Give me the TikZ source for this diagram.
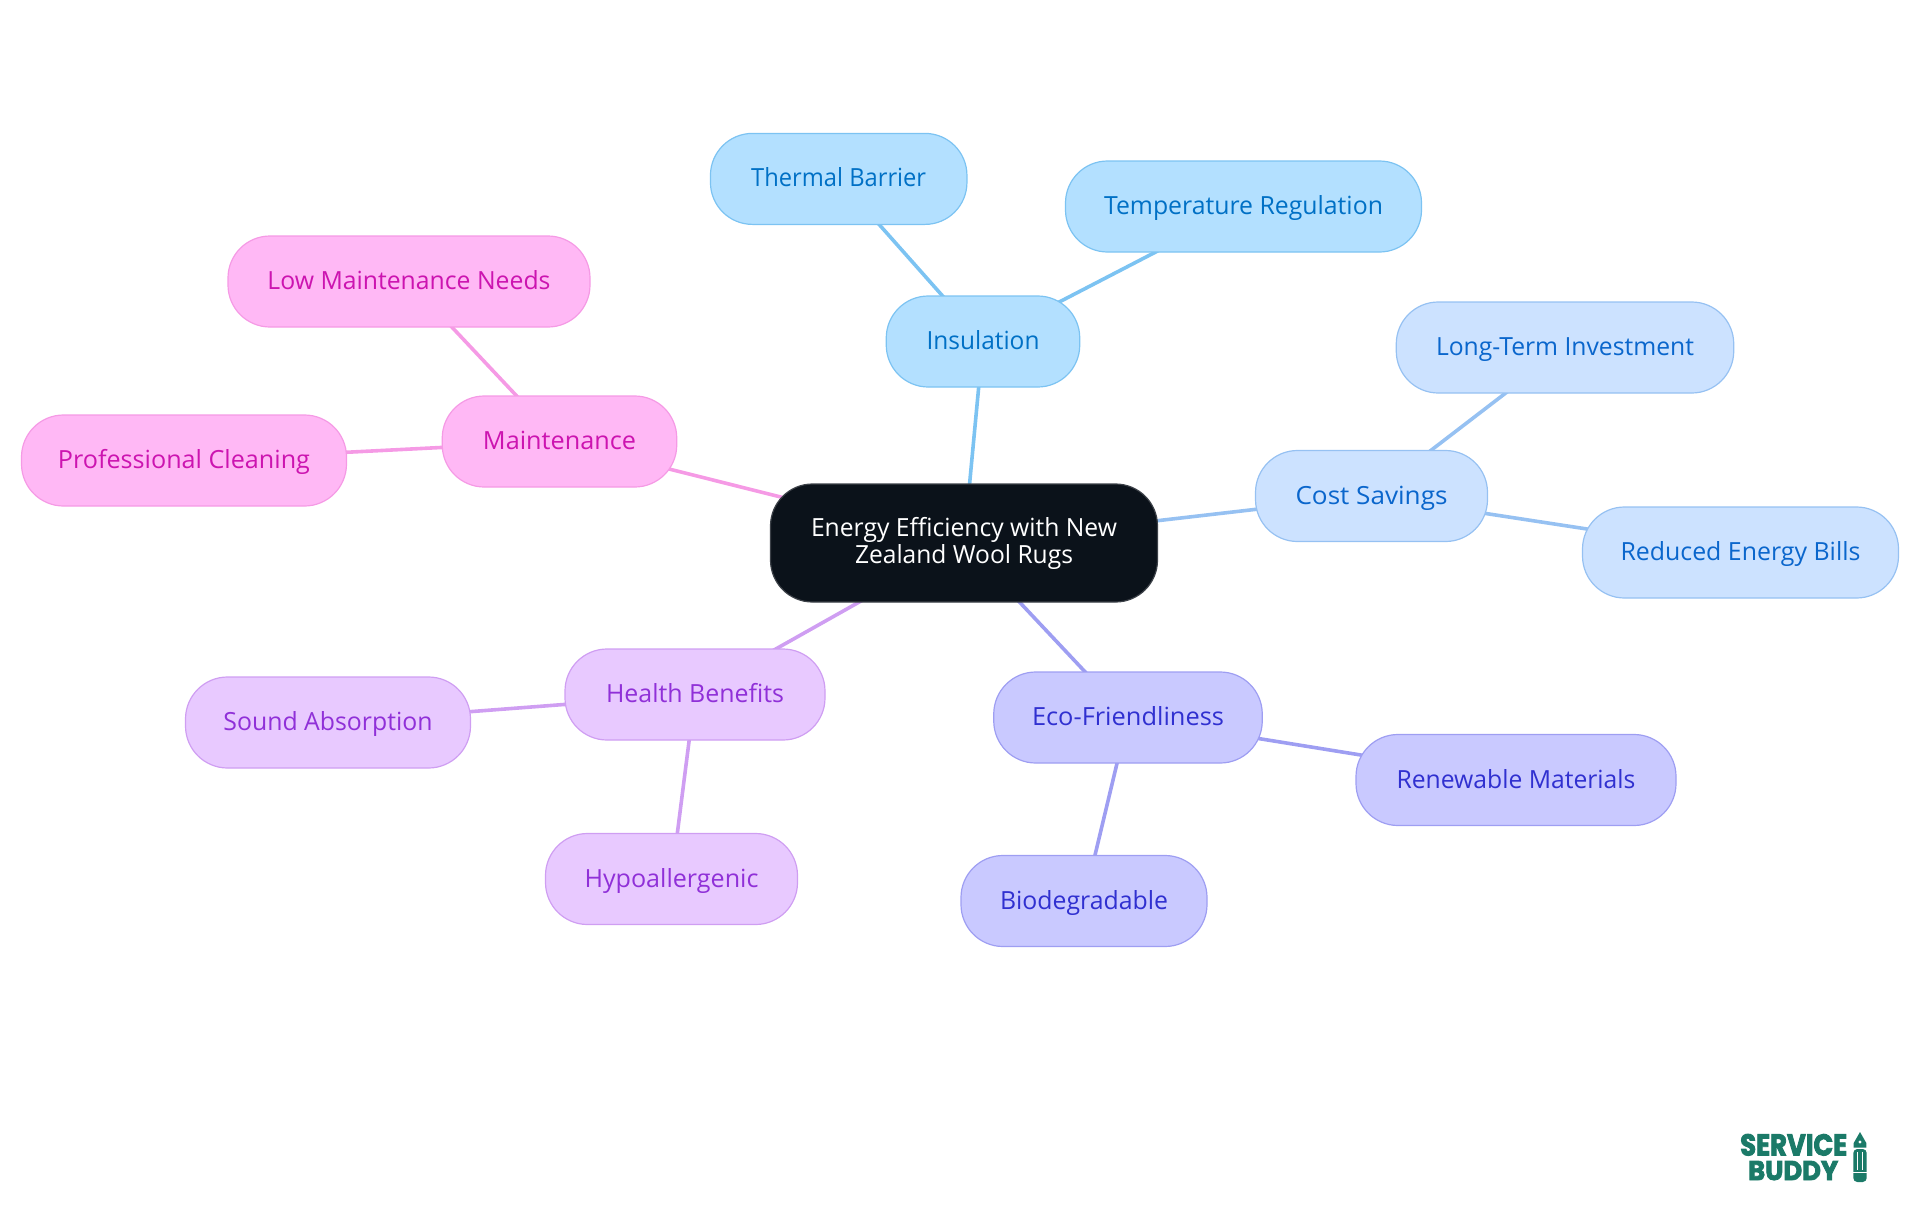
\documentclass[tikz,border=0pt]{standalone}
\usepackage{fontspec}
\usepackage{graphicx}
\setmainfont{Open Sans}
\newfontfamily\logofont[FakeBold=3]{Poppins Bold}
\usetikzlibrary{backgrounds}
\definecolor{insF}{HTML}{B3E0FF}\definecolor{insB}{HTML}{7CC3F2}\definecolor{insT}{HTML}{0070C5}
\definecolor{cosF}{HTML}{CCE2FF}\definecolor{cosB}{HTML}{96C1F2}\definecolor{cosT}{HTML}{0A66CC}
\definecolor{ecoF}{HTML}{C9C9FF}\definecolor{ecoB}{HTML}{9E9EF2}\definecolor{ecoT}{HTML}{3030D0}
\definecolor{heaF}{HTML}{E8C9FF}\definecolor{heaB}{HTML}{CF9EF2}\definecolor{heaT}{HTML}{9030D8}
\definecolor{maiF}{HTML}{FFB8F5}\definecolor{maiB}{HTML}{F59AE5}\definecolor{maiT}{HTML}{CC14B0}
\definecolor{rootF}{HTML}{0B121A}\definecolor{logoC}{HTML}{1B7A68}
\newcommand{\T}[2]{\raisebox{0pt}[21pt][5pt]{\resizebox{#1pt}{\height}{#2}}}
\tikzset{
  mm/.style={rectangle,rounded corners=42pt,inner sep=0pt,line width=1.2pt,minimum height=91pt,yshift=-0.5pt,font=\fontsize{25}{27}\selectfont},
  mmI/.style={mm,fill=insF,draw=insB,text=insT},
  mmC/.style={mm,fill=cosF,draw=cosB,text=cosT},
  mmE/.style={mm,fill=ecoF,draw=ecoB,text=ecoT},
  mmH/.style={mm,fill=heaF,draw=heaB,text=heaT},
  mmM/.style={mm,fill=maiF,draw=maiB,text=maiT},
  edge/.style={line width=3.6pt},
  logotext/.style={inner sep=0pt,text=logoC,font=\logofont\fontsize{26}{26}\selectfont}
}
\begin{document}
\begin{tikzpicture}[x=1pt,y=-1pt]
\useasboundingbox (0,0) rectangle (1920,1215);
\node[mm,fill=rootF,draw=rootF!80!white,text=white,minimum width=387pt,minimum height=118pt,align=center] (root) at (964,542.5)
  {\raisebox{0.8pt}{\resizebox{306pt}{\height}{Energy Efficiency with New}}\\[0pt]\raisebox{0.8pt}{\resizebox{218pt}{\height}{Zealand Wool Rugs}}};
\node[mmI,minimum width=193.5pt] (ins) at (983,341) {\T{113}{Insulation}};
\node[mmI,minimum width=256.5pt] (the) at (838.7,178.4) {\T{175}{Thermal Barrier}};
\node[mmI,minimum width=356pt] (tem) at (1243.5,206) {\T{279}{Temperature Regulation}};
\node[mmC,minimum width=232pt] (cos) at (1371.5,495.5) {\T{152}{Cost Savings}};
\node[mmC,minimum width=337.5pt] (lon) at (1565,347) {\T{258}{Long-Term Investment}};
\node[mmC,minimum width=316pt] (red) at (1740.5,552) {\T{240}{Reduced Energy Bills}};
\node[mmE,minimum width=268.5pt] (eco) at (1128,717) {\T{192}{Eco-Friendliness}};
\node[mmE,minimum width=320pt] (ren) at (1516,779.5) {\T{239}{Renewable Materials}};
\node[mmE,minimum width=246pt] (bio) at (1084,900.5) {\T{168}{Biodegradable}};
\node[mmH,minimum width=260pt] (hea) at (695,694) {\T{178}{Health Benefits}};
\node[mmH,minimum width=285pt] (sou) at (328,722) {\T{209}{Sound Absorption}};
\node[mmH,minimum width=252pt] (hyp) at (671.5,878.5) {\T{174}{Hypoallergenic}};
\node[mmM,minimum width=234.5pt] (mai) at (559.5,441) {\T{153}{Maintenance}};
\node[mmM,minimum width=362pt] (low) at (409,281) {\T{283}{Low Maintenance Needs}};
\node[mmM,minimum width=325pt] (pro) at (184,460) {\T{252}{Professional Cleaning}};
\begin{scope}[on background layer]
\draw[edge,insB] (root.center) -- (ins.center);
\draw[edge,insB] (ins.center) -- (the.center);
\draw[edge,insB] (ins.center) -- (tem.center);
\draw[edge,cosB] (root.center) -- (cos.center);
\draw[edge,cosB] (cos.center) -- (lon.center);
\draw[edge,cosB] (cos.center) -- (red.center);
\draw[edge,ecoB] (root.center) -- (eco.center);
\draw[edge,ecoB] (eco.center) -- (ren.center);
\draw[edge,ecoB] (eco.center) -- (bio.center);
\draw[edge,heaB] (root.center) -- (hea.center);
\draw[edge,heaB] (hea.center) -- (sou.center);
\draw[edge,heaB] (hea.center) -- (hyp.center);
\draw[edge,maiB] (root.center) -- (mai.center);
\draw[edge,maiB] (mai.center) -- (low.center);
\draw[edge,maiB] (mai.center) -- (pro.center);
\end{scope}
% logo
\node[logotext,anchor=base west] (lg1) at (1740,1155.5) {\resizebox{107pt}{21.5pt}{SERVICE}};
\node[logotext,anchor=base west] (lg2) at (1748,1180) {\resizebox{90pt}{19pt}{BUDDY}};
\fill[logoC] (1860,1132) -- (1866.3,1143) -- (1866.3,1147.5) -- (1853.7,1147.5) -- (1853.7,1143) -- cycle;
\fill[white] (1860,1142) circle (1.6);
\fill[logoC,rounded corners=4pt] (1853.3,1149) -- (1866.7,1149) -- (1866.7,1182) -- (1853.3,1182) -- cycle;
\fill[white] (1857.2,1152) rectangle (1858.2,1170);
\fill[white] (1861.6,1152) rectangle (1862.6,1170);
\fill[white] (1853.3,1172) rectangle (1866.7,1173.2);
\end{tikzpicture}
\end{document}
